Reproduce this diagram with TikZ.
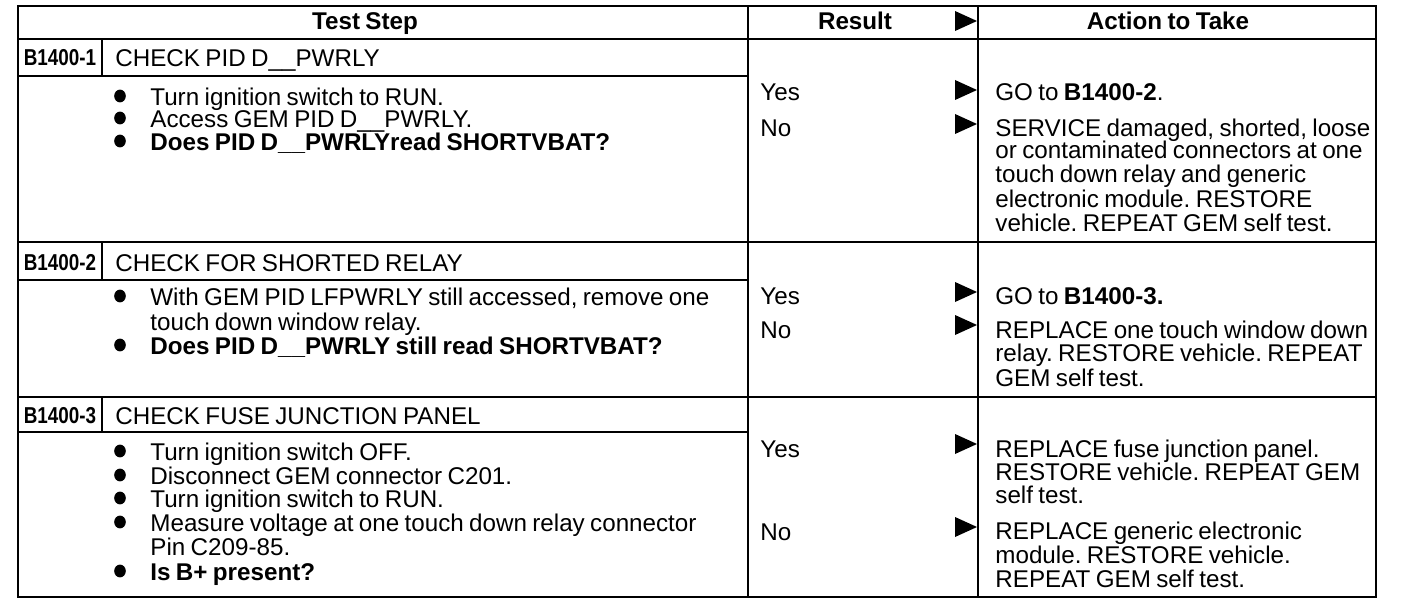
\documentclass[tikz,border=0pt]{standalone}
\usepackage{fontspec}
\usetikzlibrary{shapes.geometric}
\setmainfont[WordSpace=0.8]{Liberation Sans}
\newfontfamily\lblfont[FakeStretch=0.82]{Liberation Sans}
\frenchspacing
\begin{document}
\begin{tikzpicture}[x=0.5pt,y=-0.5pt,
  rule/.style={line width=1pt},
  txt/.style={anchor=base west,inner sep=0pt,font=\fontsize{12.1pt}{12pt}\selectfont},
  btxt/.style={txt,font=\fontsize{12.1pt}{12pt}\selectfont\bfseries},
  head/.style={anchor=base,inner sep=0pt,font=\fontsize{12.1pt}{12pt}\selectfont\bfseries},
  lbl/.style={anchor=base,inner sep=0pt,font=\lblfont\fontsize{11.5pt}{11.5pt}\selectfont\bfseries},
  dot/.style={ellipse,fill=black,inner sep=0pt,minimum width=5.8pt,minimum height=6.4pt},
  tri/.style={fill=black}]
\useasboundingbox (0,0) rectangle (1408,610);
% frame and rules
\draw[rule] (18,6) rectangle (1376,597);
\draw[rule] (18,39) -- (1376,39);
\draw[rule] (18,242) -- (1376,242);
\draw[rule] (18,397) -- (1376,397);
\draw[rule] (18,76) -- (748,76);
\draw[rule] (18,280) -- (748,280);
\draw[rule] (18,432) -- (748,432);
\draw[rule] (748,6) -- (748,597);
\draw[rule] (978,6) -- (978,597);
\draw[rule] (102,39) -- (102,76);
\draw[rule] (102,242) -- (102,280);
\draw[rule] (102,397) -- (102,432);
% header
\node[head] (hts) at (365,30) {Test Step};
\node[head] (hres) at (855,30) {Result};
\node[head] (hact) at (1168,30) {Action to Take};
\fill[tri] (955,11) -- (955,31) -- (977,21) -- cycle;
% ---------- row 1
\node[lbl] (l1) at (60,66) {B1400-1};
\node[txt] (c1) at (115,67) {CHECK PID D\_\_PWRLY};
\node[dot] (b11) at (120,96) {};
\node[dot] (b12) at (120,118) {};
\node[dot] (b13) at (120,141) {};
\node[txt] (s11) at (150,105) {Turn ignition switch to RUN.};
\node[txt] (s12) at (150,127) {Access GEM PID D\_\_PWRLY.};
\node[btxt] (s13) at (150,150) {Does PID D\_\_PWRLYread SHORTVBAT?};
\node[txt] (y1) at (760,101) {Yes};
\node[txt] (n1) at (760,136) {No};
\fill[tri] (955,80) -- (955,100) -- (977,90) -- cycle;
\fill[tri] (955,114) -- (955,134) -- (977,124) -- cycle;
\node[txt] (a11) at (995,101) {GO to \textbf{B1400-2}.};
\node[txt] (a12) at (995,136) {SERVICE damaged, shorted, loose};
\node[txt] (a13) at (995,159) {or contaminated connectors at one};
\node[txt] (a14) at (995,183) {touch down relay and generic};
\node[txt] (a15) at (995,207) {electronic module. RESTORE};
\node[txt] (a16) at (995,231) {vehicle. REPEAT GEM self test.};
% ---------- row 2
\node[lbl] (l2) at (60,270) {B1400-2};
\node[txt] (c2) at (115,271) {CHECK FOR SHORTED RELAY};
\node[dot] (b21) at (120,296) {};
\node[dot] (b22) at (120,345) {};
\node[txt] (s21) at (150,305) {With GEM PID LFPWRLY still accessed, remove one};
\node[txt] (s22) at (150,330) {touch down window relay.};
\node[btxt] (s23) at (150,354) {Does PID D\_\_PWRLY still read SHORTVBAT?};
\node[txt] (y2) at (760,304) {Yes};
\node[txt] (n2) at (760,338) {No};
\fill[tri] (955,282) -- (955,302) -- (977,292) -- cycle;
\fill[tri] (955,315) -- (955,335) -- (977,325) -- cycle;
\node[txt] (a21) at (995,304) {GO to \textbf{B1400-3.}};
\node[txt] (a22) at (995,338) {REPLACE one touch window down};
\node[txt] (a23) at (995,361) {relay. RESTORE vehicle. REPEAT};
\node[txt] (a24) at (995,386) {GEM self test.};
% ---------- row 3
\node[lbl] (l3) at (60,423) {B1400-3};
\node[txt] (c3) at (115,424) {CHECK FUSE JUNCTION PANEL};
\node[dot] (b31) at (120,451) {};
\node[dot] (b32) at (120,475) {};
\node[dot] (b33) at (120,498) {};
\node[dot] (b34) at (120,522) {};
\node[dot] (b35) at (120,571) {};
\node[txt] (s31) at (150,460) {Turn ignition switch OFF.};
\node[txt] (s32) at (150,484) {Disconnect GEM connector C201.};
\node[txt] (s33) at (150,507) {Turn ignition switch to RUN.};
\node[txt] (s34) at (150,531) {Measure voltage at one touch down relay connector};
\node[txt] (s35) at (150,555) {Pin C209-85.};
\node[btxt] (s36) at (150,580) {Is B+ present?};
\node[txt] (y3) at (760,457) {Yes};
\node[txt] (n3) at (760,540) {No};
\fill[tri] (955,434) -- (955,454) -- (977,444) -- cycle;
\fill[tri] (955,517) -- (955,537) -- (977,527) -- cycle;
\node[txt] (a31) at (995,457) {REPLACE fuse junction panel.};
\node[txt] (a32) at (995,480) {RESTORE vehicle. REPEAT GEM};
\node[txt] (a33) at (995,503) {self test.};
\node[txt] (a34) at (995,539) {REPLACE generic electronic};
\node[txt] (a35) at (995,563) {module. RESTORE vehicle.};
\node[txt] (a36) at (995,587) {REPEAT GEM self test.};
\end{tikzpicture}
\end{document}
